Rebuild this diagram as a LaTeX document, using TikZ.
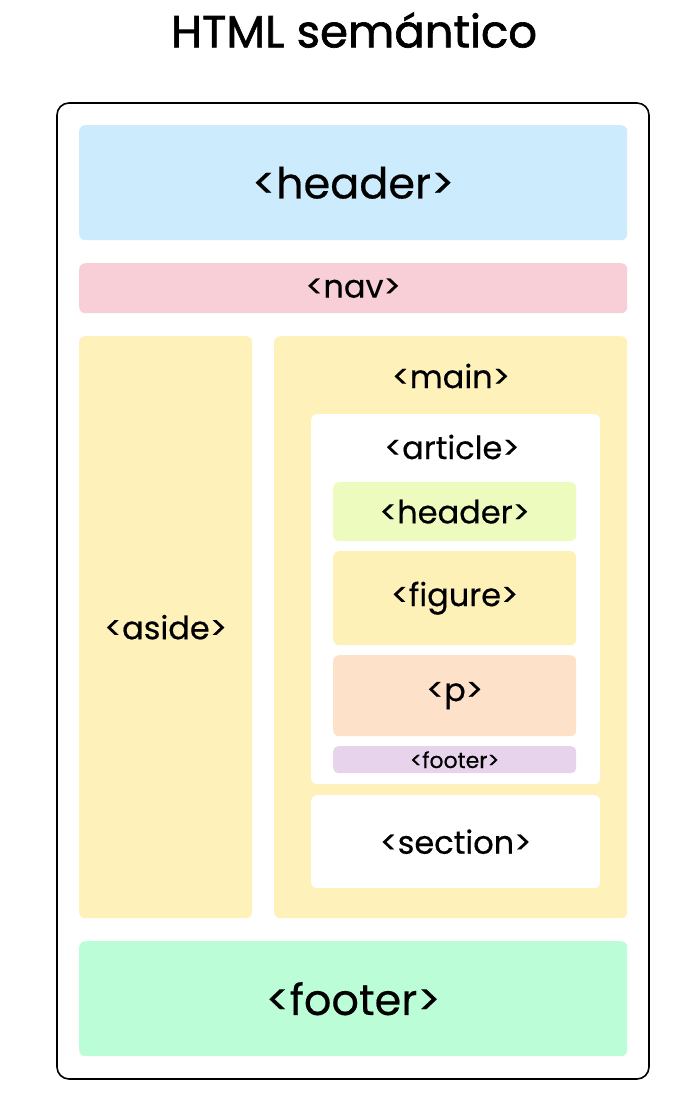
\documentclass[tikz,border=0pt]{standalone}
\usepackage{fontspec}
\setmainfont{Poppins}[FakeBold=0.4]
\usepackage{tikz}
\usetikzlibrary{positioning}
\definecolor{headblue}{HTML}{CCEBFC}
\definecolor{navpink}{HTML}{F9CFD7}
\definecolor{sideyellow}{HTML}{FEF1BA}
\definecolor{figyellow}{HTML}{FEF1B8}
\definecolor{limegreen}{HTML}{EDFBBE}
\definecolor{peach}{HTML}{FDE1C9}
\definecolor{lilac}{HTML}{E8D3EC}
\definecolor{mint}{HTML}{BBFDD6}

\begin{document}
\begin{tikzpicture}[x=1pt, y=-1pt,
    box/.style={rounded corners=6pt, inner sep=0pt, anchor=north west},
    bigtxt/.style={font=\fontsize{43}{50}\selectfont},
    midtxt/.style={font=\fontsize{32}{38}\selectfont},
    smalltxt/.style={font=\fontsize{22}{26}\selectfont}]
    \useasboundingbox (0,0) rectangle (699,1105);

    % Title
    \node[font=\fontsize{45}{52}\selectfont\addfontfeature{FakeBold=1.4}] (title) at (354,30) {HTML semántico};

    % Page frame
    \draw[line width=1.6pt, rounded corners=12pt] (57,103) rectangle (649,1079);

    % Top of the page
    \node[box, bigtxt, fill=headblue, minimum width=548pt, minimum height=115pt] (header) at (79,125) {<header>};
    \node[box, midtxt, fill=navpink, minimum width=548pt, minimum height=50pt] (nav) at (79,263) {<nav>};

    % Side column
    \node[box, midtxt, fill=sideyellow, minimum width=173pt, minimum height=582pt] (aside) at (79,336) {<aside>};

    % Main column
    \node[box, fill=sideyellow, minimum width=353pt, minimum height=582pt] (main) at (274,336) {};
    \node[midtxt] (mainlbl) at (451,376) {<main>};

    % Article
    \node[box, fill=white, minimum width=289pt, minimum height=370pt] (article) at (311,414) {};
    \node[midtxt] (articlelbl) at (452,447) {<article>};
    \node[box, midtxt, fill=limegreen, minimum width=243pt, minimum height=59pt] (arthead) at (333,482) {<header>};
    \node[box, midtxt, fill=figyellow, minimum width=243pt, minimum height=94pt] (figure) at (333,551) {<figure>};
    \node[box, midtxt, fill=peach, minimum width=243pt, minimum height=81pt] (para) at (333,655) {<p>};
    \node[box, smalltxt, fill=lilac, minimum width=243pt, minimum height=27pt, rounded corners=5pt] (artfoot) at (333,746) {<footer>};

    % Section
    \node[box, midtxt, fill=white, minimum width=289pt, minimum height=93pt] (section) at (311,795) {<section>};

    % Bottom of the page
    \node[box, bigtxt, fill=mint, minimum width=548pt, minimum height=115pt] (footer) at (79,941) {<footer>};
\end{tikzpicture}
\end{document}
